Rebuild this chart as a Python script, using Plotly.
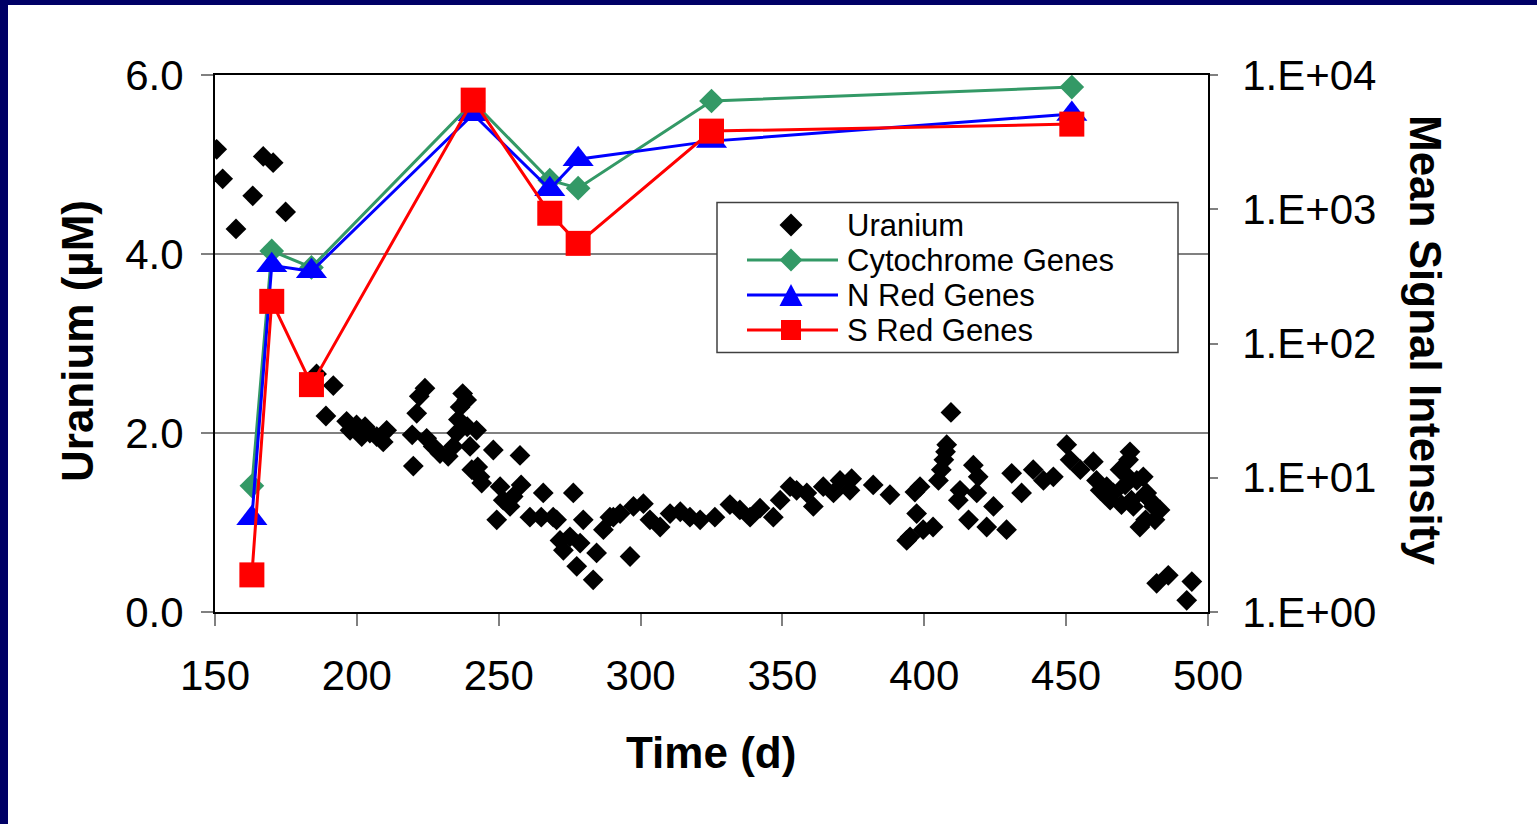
import plotly.graph_objects as go

# ---- data ---------------------------------------------------------------
# Uranium concentration in groundwater (µM) versus time (days)
uranium_day = [
    150.6, 152.7, 157.4, 163.3, 167.0, 170.5, 174.9, 185.8, 189.1, 191.7,
    196.4, 197.6, 199.9, 201.7, 202.9, 204.6, 207.0, 209.3, 210.5, 219.5,
    219.9, 221.1, 222.0, 224.0, 224.6, 226.9, 229.3, 232.2, 234.0, 235.2,
    235.8, 236.4, 237.3, 238.7, 238.9, 239.9, 240.5, 242.2, 242.6, 243.4,
    244.0, 248.1, 249.3, 250.5, 251.6, 254.0, 255.1, 257.5, 257.9, 261.0,
    265.0, 265.7, 269.2, 270.4, 271.6, 272.8, 275.1, 276.3, 277.5, 278.7,
    279.8, 283.3, 284.5, 286.9, 289.2, 290.4, 292.8, 296.3, 297.5, 301.0,
    303.3, 306.9, 310.4, 314.0, 317.4, 321.0, 326.2, 331.5, 335.0, 338.6,
    342.1, 346.8, 349.2, 352.7, 355.0, 358.6, 360.9, 364.4, 368.0, 370.3,
    373.8, 374.4, 382.0, 387.9, 393.8, 395.0, 396.7, 397.3, 398.5, 399.6,
    403.1, 405.0, 406.0, 406.9, 407.5, 407.9, 409.4, 412.0, 412.6, 415.6,
    417.3, 418.5, 419.0, 422.0, 424.4, 429.0, 430.8, 434.3, 438.4, 442.0,
    445.5, 450.2, 451.4, 455.0, 459.6, 460.7, 462.0, 464.3, 465.5, 466.6,
    469.0, 469.5, 470.8, 471.8, 472.0, 472.5, 473.0, 473.7, 474.9, 476.0,
    477.2, 477.8, 478.0, 478.4, 479.6, 480.8, 481.3, 483.1, 481.9, 486.0,
    492.5, 494.3,
]
uranium_um = [
    5.17, 4.84, 4.28, 4.65, 5.09, 5.02, 4.47, 2.66, 2.19, 2.53,
    2.13, 2.03, 2.09, 1.96, 2.07, 2.00, 1.96, 1.90, 2.03, 1.98,
    1.63, 2.22, 2.41, 2.50, 1.94, 1.85, 1.77, 1.74, 1.85, 2.00,
    2.15, 2.29, 2.44, 2.37, 2.07, 1.85, 1.59, 2.03, 1.62, 1.51,
    1.44, 1.81, 1.03, 1.40, 1.25, 1.18, 1.29, 1.75, 1.42, 1.06,
    1.06, 1.33, 1.06, 1.03, 0.80, 0.69, 0.84, 1.33, 0.51, 0.77,
    1.03, 0.36, 0.66, 0.92, 1.06, 1.06, 1.10, 0.62, 1.18, 1.21,
    1.03, 0.95, 1.10, 1.12, 1.06, 1.03, 1.06, 1.20, 1.14, 1.06,
    1.16, 1.06, 1.25, 1.40, 1.36, 1.33, 1.18, 1.40, 1.33, 1.47,
    1.36, 1.49, 1.42, 1.31, 0.80, 0.84, 1.34, 1.10, 1.40, 0.92,
    0.95, 1.47, 1.59, 1.70, 1.79, 1.87, 2.23, 1.25, 1.36, 1.03,
    1.64, 1.33, 1.51, 0.95, 1.18, 0.92, 1.55, 1.33, 1.59, 1.47,
    1.51, 1.87, 1.70, 1.59, 1.68, 1.47, 1.36, 1.40, 1.25, 1.33,
    1.59, 1.20, 1.42, 1.51, 1.70, 1.79, 1.25, 1.18, 1.47, 0.95,
    1.51, 1.31, 1.03, 1.33, 1.25, 1.18, 1.03, 1.14, 0.32, 0.41,
    0.13, 0.34,
]

# Mean signal intensity of functional gene groups on the sampling days
gene_day = [163, 170, 184, 241, 268, 278, 325, 452]
cytochrome_signal = [8.7, 489, 369, 6300, 1646, 1435, 6400, 8130]
n_red_signal = [5.0, 382, 345, 5100, 1410, 2361, 3217, 5117]
s_red_signal = [1.89, 206, 49.4, 6500, 934, 557, 3820, 4307]

x_ticks = [150, 200, 250, 300, 350, 400, 450, 500]
u_ticks = [0, 2, 4, 6]
u_tick_text = ["0.0", "2.0", "4.0", "6.0"]
signal_ticks = [1, 10, 100, 1000, 10000]
signal_tick_text = ["1.E+00", "1.E+01", "1.E+02", "1.E+03", "1.E+04"]

legend_names = ["Uranium", "Cytochrome Genes", "N Red Genes", "S Red Genes"]

# ---- page geometry --------------------------------------------------------
W, H = 1537, 824
ML, MR, MT, MB = 215, 329, 75, 212
PW, PH = W - ML - MR, H - MT - MB
FONT = "Liberation Sans, Arial, sans-serif"
GREEN, BLUE, RED, NAVY = "#339966", "#0000FF", "#FF0000", "#000066"


def fx(x):
    """pixel column -> paper x"""
    return (x - ML) / PW


def fy(y):
    """pixel row -> paper y"""
    return (H - MB - y) / PH


fig = go.Figure()

fig.add_trace(go.Scatter(
    x=uranium_day, y=uranium_um, mode="markers", name=legend_names[0],
    marker=dict(symbol="diamond", size=16, color="black", line=dict(width=0)),
    yaxis="y", showlegend=False,
))
for name, vals, color, sym, size in [
    (legend_names[1], cytochrome_signal, GREEN, "diamond", 19),
    (legend_names[2], n_red_signal, BLUE, "triangle-up", 27),
    (legend_names[3], s_red_signal, RED, "square", 25),
]:
    fig.add_trace(go.Scatter(
        x=gene_day, y=vals, mode="lines+markers", name=name,
        line=dict(color=color, width=3),
        marker=dict(symbol=sym, size=size, color=color, line=dict(width=0)),
        yaxis="y2", showlegend=False,
    ))

tick_font = dict(family=FONT, size=42, color="black")

fig.update_layout(
    width=W, height=H,
    margin=dict(l=ML, r=MR, t=MT, b=MB, pad=0),
    paper_bgcolor="white", plot_bgcolor="white",
    showlegend=False,
    xaxis=dict(
        range=[150, 500], tickmode="array", tickvals=x_ticks,
        ticks="outside", ticklen=12, tickwidth=1.5, tickcolor="#808080",
        showline=True, linecolor="black", linewidth=1.5, mirror=True,
        showgrid=False, zeroline=False, tickfont=tick_font,
        ticklabelstandoff=14,
    ),
    yaxis=dict(
        range=[0, 6], tickmode="array", tickvals=u_ticks, ticktext=u_tick_text,
        ticks="outside", ticklen=12, tickwidth=1.5, tickcolor="#808080",
        showline=True, linecolor="black", linewidth=2,
        showgrid=True, gridcolor="#808080", gridwidth=1.5,
        zeroline=False, tickfont=tick_font, ticklabelstandoff=9,
    ),
    yaxis2=dict(
        type="log", range=[0, 4], overlaying="y", side="right", anchor="x",
        tickmode="array", tickvals=signal_ticks, ticktext=signal_tick_text,
        ticks="outside", ticklen=8, tickwidth=1.5, tickcolor="#808080",
        showline=True, linecolor="black", linewidth=1.5,
        showgrid=False, zeroline=False, tickfont=tick_font,
        ticklabelstandoff=16,
    ),
    # inner half of the cross-style ticks on the signal axis
    yaxis3=dict(
        type="log", range=[0, 4], overlaying="y", side="right", anchor="x",
        tickmode="array", tickvals=signal_ticks,
        ticks="inside", ticklen=7, tickwidth=1.5, tickcolor="#808080",
        showticklabels=False, showline=False, showgrid=False, zeroline=False,
    ),
)

title_font = dict(family=FONT, size=44, color="black", weight="bold")
fig.add_annotation(text="Uranium (µM)", x=fx(77), y=fy(341), xref="paper", yref="paper",
                   textangle=-90, showarrow=False, font=title_font,
                   xanchor="center", yanchor="middle")
fig.add_annotation(text="Mean Signal Intensity", x=fx(1426), y=fy(340), xref="paper",
                   yref="paper", textangle=90, showarrow=False, font=title_font,
                   xanchor="center", yanchor="middle")
fig.add_annotation(text="Time (d)", x=fx(711), y=fy(752), xref="paper", yref="paper",
                   showarrow=False, font=title_font, xanchor="center", yanchor="middle")

# ---- legend box ----------------------------------------------------------
shapes = [
    dict(type="rect", xref="paper", yref="paper", x0=fx(717), x1=fx(1178),
         y0=fy(352.5), y1=fy(202.5), fillcolor="white",
         line=dict(color="#404040", width=1.5), layer="above"),
]
rows = [225, 260, 295, 330]
glyphs = [
    ("black", None, "M-11.5,0L0,11.5L11.5,0L0,-11.5Z"),
    (GREEN, GREEN, "M-11.5,0L0,11.5L11.5,0L0,-11.5Z"),
    (BLUE, BLUE, "M-11.5,-11L11.5,-11L0,11Z"),
    (RED, RED, "M-10,-10L10,-10L10,10L-10,10Z"),
]
for row, (mcolor, lcolor, path) in zip(rows, glyphs):
    if lcolor:
        shapes.append(dict(type="line", xref="paper", yref="paper",
                           x0=fx(747), x1=fx(838), y0=fy(row), y1=fy(row),
                           line=dict(color=lcolor, width=3), layer="above"))
    shapes.append(dict(type="path", xref="paper", yref="paper",
                       xsizemode="pixel", ysizemode="pixel",
                       xanchor=fx(791), yanchor=fy(row), path=path,
                       fillcolor=mcolor, line=dict(width=0), layer="above"))
for row, name in zip(rows, legend_names):
    fig.add_annotation(text=name, x=fx(846), y=fy(row), xref="paper", yref="paper",
                       showarrow=False, xanchor="left", yanchor="middle",
                       borderpad=0, font=dict(family=FONT, size=31, color="black"))

# ---- slide frame (top and left bands) -------------------------------------
shapes.append(dict(type="rect", xref="paper", yref="paper", x0=fx(0), x1=fx(W),
                   y0=fy(5), y1=fy(0), fillcolor=NAVY, line=dict(width=0), layer="above"))
shapes.append(dict(type="rect", xref="paper", yref="paper", x0=fx(0), x1=fx(8),
                   y0=fy(H), y1=fy(0), fillcolor=NAVY, line=dict(width=0), layer="above"))
fig.update_layout(shapes=shapes)

fig.write_html("out.html")
